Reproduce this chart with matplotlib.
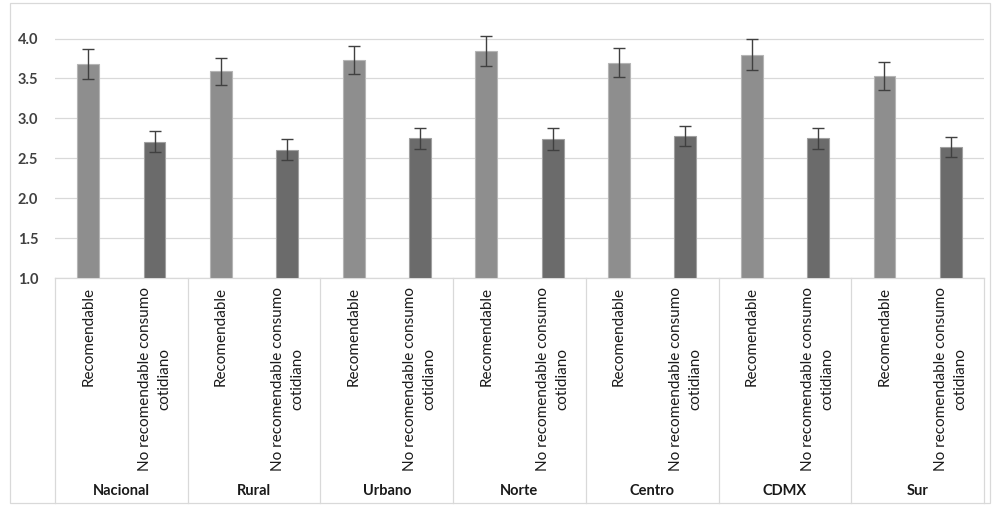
import numpy as np
import matplotlib
matplotlib.use('Agg')
import matplotlib.pyplot as plt
from matplotlib.patches import Rectangle
import matplotlib.transforms as mtransforms

# datos
grupos = ['Nacional', 'Rural', 'Urbano', 'Norte', 'Centro', 'CDMX', 'Sur']
tipos = ['Recomendable', 'No recomendable consumo\ncotidiano']
recomendable = [3.68, 3.59, 3.73, 3.84, 3.70, 3.80, 3.53]
err_recomendable = [0.19, 0.17, 0.18, 0.19, 0.18, 0.20, 0.175]
no_recomendable = [2.71, 2.61, 2.75, 2.74, 2.78, 2.75, 2.64]
err_no_recomendable = [0.13, 0.13, 0.135, 0.14, 0.13, 0.135, 0.13]

plt.rcParams['font.family'] = ['Lato', 'DejaVu Sans']

fig = plt.figure(figsize=(9.92, 5.08), dpi=100)
W, H = 992, 508
# area de trazado en pixeles
x0, x1 = 55, 984
ybase, ytop = 278, 22.6
ax = fig.add_axes([x0 / W, (H - ybase) / H, (x1 - x0) / W, (ybase - ytop) / H])

n = len(grupos)
pos_r = np.arange(n) * 2
pos_n = np.arange(n) * 2 + 1
base = 1.0
ancho = 0.33

ax.bar(pos_r, np.array(recomendable) - base, bottom=base, width=ancho,
       color='#8e8e8e', edgecolor='#b5b5b5', linewidth=0.8, zorder=3)
ax.bar(pos_n, np.array(no_recomendable) - base, bottom=base, width=ancho,
       color='#6b6b6b', edgecolor='#a0a0a0', linewidth=0.8, zorder=3)
ax.errorbar(pos_r, recomendable, yerr=err_recomendable, fmt='none',
            ecolor='#404040', elinewidth=1.0, capsize=4.5, capthick=1.0, zorder=4, clip_on=False)
ax.errorbar(pos_n, no_recomendable, yerr=err_no_recomendable, fmt='none',
            ecolor='#404040', elinewidth=1.0, capsize=4.5, capthick=1.0, zorder=4, clip_on=False)

ax.set_xlim(-0.5, 2 * n - 0.5)
ax.set_ylim(1.0, 4.2)
ax.set_yticks(np.arange(1.0, 4.01, 0.5))
ax.set_yticklabels(['%.1f' % v for v in np.arange(1.0, 4.01, 0.5)],
                   fontsize=10.5, fontweight='bold', color='#404040')
ax.tick_params(axis='y', length=0, pad=12)
ax.set_xticks([])
ax.yaxis.grid(True, color='#d9d9d9', linewidth=0.9)
ax.set_axisbelow(True)
for s in ['top', 'right', 'left']:
    ax.spines[s].set_visible(False)
ax.spines['bottom'].set_color('#d9d9d9')
ax.spines['bottom'].set_linewidth(0.9)

# eje de categorias de dos niveles
trans = mtransforms.blended_transform_factory(ax.transData, ax.transAxes)
fondo = -(503 - ybase) / (ybase - ytop)
for k in range(n + 1):
    ax.plot([2 * k - 0.5, 2 * k - 0.5], [0, fondo], transform=trans,
            color='#d9d9d9', linewidth=0.9, clip_on=False)

y_tipo = -(287 - ybase) / (ybase - ytop)
y_grupo = -(491 - ybase) / (ybase - ytop)
for i, g in enumerate(grupos):
    ax.text(pos_r[i], y_tipo, tipos[0], transform=trans, rotation=90,
            ha='center', va='top', fontsize=11, color='#1a1a1a')
    ax.text(pos_n[i], y_tipo, tipos[1], transform=trans, rotation=90,
            ha='center', va='top', multialignment='center', fontsize=11,
            color='#1a1a1a', linespacing=1.5)
    ax.text(2 * i + 0.5, y_grupo, g, transform=trans, ha='center', va='center',
            fontsize=10.5, fontweight='bold', color='#1a1a1a')

# borde del area del grafico
fig.patches.append(Rectangle((10 / W, 5 / H), 980 / W, 500 / H, transform=fig.transFigure,
                             fill=False, edgecolor='#d9d9d9', linewidth=0.9))

fig.savefig('out.png', dpi=100)
